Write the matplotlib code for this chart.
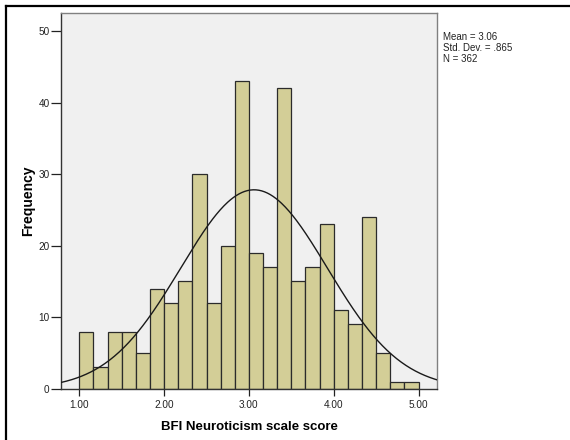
import matplotlib
matplotlib.use("Agg")
import matplotlib.pyplot as plt
from matplotlib.lines import Line2D
import numpy as np

# === Data ===
bin_start = 1.0
bin_width = 1.0 / 6.0
counts = [8, 3, 8, 8, 5, 14, 12, 15, 30, 12, 20, 43,
          19, 17, 42, 15, 17, 23, 11, 9, 24, 5, 1, 1]
mean_val = 3.06
sd_val = 0.865
n_val = 362
x_ticks = [1.0, 2.0, 3.0, 4.0, 5.0]
x_tick_labels = ["1.00", "2.00", "3.00", "4.00", "5.00"]
y_ticks = [0, 10, 20, 30, 40, 50]

plt.rcParams["font.family"] = ["Liberation Sans", "DejaVu Sans"]

fig = plt.figure(figsize=(5.7, 4.4), dpi=100)
ax = fig.add_axes([0.1065, 0.1166, 0.6605, 0.8545])
ax.set_facecolor("#F0F0F0")

# === Bars ===
edges = bin_start + bin_width * np.arange(len(counts))
ax.bar(edges, counts, width=bin_width, align="edge",
       color="#D3CE97", edgecolor="#2b2b2b", linewidth=0.9, zorder=2)

# === Normal curve ===
xs = np.linspace(0.78, 5.22, 400)
pdf = np.exp(-0.5 * ((xs - mean_val) / sd_val) ** 2) / (sd_val * np.sqrt(2 * np.pi))
ax.plot(xs, n_val * bin_width * pdf, color="#1a1a1a", linewidth=1.0, zorder=3)

ax.set_xlim(0.78, 5.22)
ax.set_ylim(0, 52.6)
ax.set_xticks(x_ticks)
ax.set_xticklabels(x_tick_labels)
ax.set_yticks(y_ticks)
ax.tick_params(axis="both", direction="out", width=0.9,
               labelsize=7.2, colors="#222222")
ax.tick_params(axis="y", length=7, pad=1)
ax.tick_params(axis="x", length=5, pad=3)
for side in ["top", "right", "left", "bottom"]:
    ax.spines[side].set_color("#808080")
    ax.spines[side].set_linewidth(1.0)
ax.spines["left"].set_color("#333333")
ax.spines["bottom"].set_color("#333333")

ax.set_xlabel("BFI Neuroticism scale score", fontsize=9.5, fontweight="bold", labelpad=8)
ax.set_ylabel("Frequency", fontsize=10, fontweight="bold")
ax.yaxis.set_label_coords(-0.069, 0.5)

# === Stats box text ===
fig.text(443 / 570, 1 - 32 / 440,
         f"Mean = {mean_val:.2f}\nStd. Dev. = .865\nN = {n_val}",
         fontsize=7, va="top", ha="left", color="#222222", linespacing=1.12)

# === Outer border (left and top lines only) ===
fig.lines.append(Line2D([6 / 570, 6 / 570], [0, 1 - 6 / 440],
                        transform=fig.transFigure, color="black", linewidth=1.6))
fig.lines.append(Line2D([6 / 570, 1.0], [1 - 6 / 440, 1 - 6 / 440],
                        transform=fig.transFigure, color="black", linewidth=1.6))

fig.savefig("out.png", dpi=100)
plt.close(fig)
